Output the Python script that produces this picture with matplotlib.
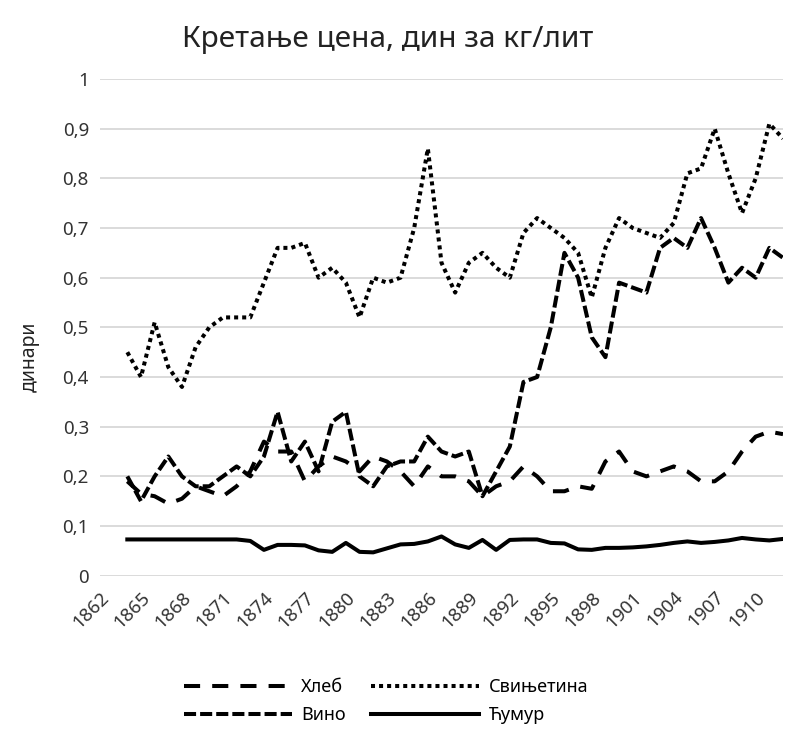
import matplotlib
matplotlib.use("Agg")
import matplotlib.pyplot as plt

plt.rcParams['font.family'] = ['Noto Sans', 'DejaVu Sans']

# категорије на оси: 1862-1912, подаци почињу 1864
years = list(range(1862, 1913))
data_years = list(range(1864, 1913))

hleb = [0.19, 0.165, 0.16, 0.145, 0.155, 0.18, 0.17, 0.16, 0.18, 0.21,
        0.27, 0.25, 0.25, 0.19, 0.22, 0.24, 0.23, 0.21, 0.24, 0.23,
        0.21, 0.18, 0.22, 0.20, 0.20, 0.19, 0.16, 0.18, 0.19, 0.22,
        0.20, 0.17, 0.17, 0.18, 0.175, 0.23, 0.25, 0.21, 0.20, 0.21,
        0.22, 0.21, 0.19, 0.19, 0.21, 0.25, 0.28, 0.29, 0.285]

vino = [0.20, 0.15, 0.20, 0.24, 0.20, 0.18, 0.18, 0.20, 0.22, 0.20,
        0.24, 0.33, 0.23, 0.27, 0.21, 0.31, 0.33, 0.20, 0.18, 0.22,
        0.23, 0.23, 0.28, 0.25, 0.24, 0.25, 0.16, 0.21, 0.26, 0.39,
        0.40, 0.50, 0.65, 0.60, 0.48, 0.44, 0.59, 0.58, 0.57, 0.66,
        0.68, 0.66, 0.72, 0.66, 0.59, 0.62, 0.60, 0.66, 0.64]

svinjetina = [0.45, 0.40, 0.51, 0.42, 0.38, 0.46, 0.50, 0.52, 0.52, 0.52,
              0.59, 0.66, 0.66, 0.67, 0.60, 0.62, 0.59, 0.52, 0.60, 0.59,
              0.60, 0.70, 0.86, 0.63, 0.57, 0.63, 0.65, 0.62, 0.60, 0.69,
              0.72, 0.70, 0.68, 0.65, 0.56, 0.66, 0.72, 0.70, 0.69, 0.68,
              0.71, 0.81, 0.82, 0.90, 0.81, 0.73, 0.80, 0.91, 0.88]

cumur = [0.073, 0.073, 0.073, 0.073, 0.073, 0.073, 0.073, 0.073, 0.073, 0.070,
         0.052, 0.062, 0.062, 0.061, 0.051, 0.048, 0.066, 0.048, 0.047, 0.055,
         0.063, 0.064, 0.069, 0.079, 0.063, 0.056, 0.072, 0.052, 0.072, 0.073,
         0.073, 0.066, 0.065, 0.053, 0.052, 0.056, 0.056, 0.057, 0.059, 0.062,
         0.066, 0.069, 0.066, 0.068, 0.071, 0.076, 0.073, 0.071, 0.074]

tick_years = list(range(1862, 1911, 3))
y_ticks = [0, 0.1, 0.2, 0.3, 0.4, 0.5, 0.6, 0.7, 0.8, 0.9, 1.0]
y_labels = ['0', '0,1', '0,2', '0,3', '0,4', '0,5', '0,6', '0,7', '0,8', '0,9', '1']

fig = plt.figure(figsize=(7.89, 7.31), dpi=100)
ax = fig.add_axes([100 / 789, 1 - 575.7 / 731, 683 / 789, 496.7 / 731])

lw = 2.9
ax.plot(data_years, hleb, color='black', lw=lw, dashes=(4, 3), label='Хлеб')
ax.plot(data_years, vino, color='black', lw=lw, dashes=(3, 1), label='Вино')
ax.plot(data_years, svinjetina, color='black', lw=lw, dashes=(1, 1), label='Свињетина')
ax.plot(data_years, cumur, color='black', lw=lw, label='Ћумур')

ax.set_xlim(years[0], years[-1])
ax.set_ylim(0, 1)
ax.set_yticks(y_ticks)
ax.set_yticklabels(y_labels, fontsize=13.5, color='#333333')
ax.set_xticks(tick_years)
ax.set_xticklabels([str(y) for y in tick_years], rotation=45, ha='right',
                   rotation_mode='anchor', fontsize=13.5, color='#333333')
ax.tick_params(axis='y', length=0, pad=8)
ax.tick_params(axis='x', length=0, pad=9)
ax.grid(axis='y', color='#d4d4d4', lw=1.2)
ax.set_axisbelow(True)
for s in ax.spines.values():
    s.set_visible(False)

fig.text(388 / 789, 1 - 40 / 731, 'Кретање цена, дин за кг/лит',
         ha='center', va='center', fontsize=21.5, color='#222222')
fig.text(30 / 789, 1 - 357 / 731, 'динари', rotation=90,
         ha='center', va='center', fontsize=14, color='#222222')

fig.legend(loc='center', bbox_to_anchor=(386 / 789, 1 - 701 / 731), ncol=2,
           frameon=False, fontsize=13, handlelength=6.0, handletextpad=0.5,
           columnspacing=1.4, labelspacing=0.55)

fig.savefig('out.png', dpi=100)
